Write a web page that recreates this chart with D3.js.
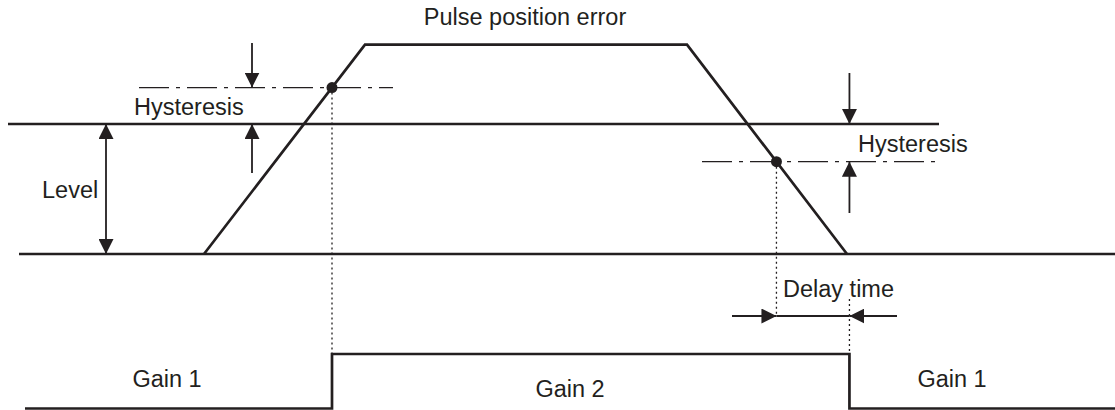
<!DOCTYPE html>
<html>
<head>
<meta charset="utf-8">
<script src="https://cdn.jsdelivr.net/npm/d3@7"></script>
<style>
  body { margin: 0; background: #fff; }
  svg text { font-family: "Liberation Sans", Arial, sans-serif; font-size: 23.5px; fill: #231f20; }
</style>
</head>
<body>
<svg width="1115" height="410"></svg>
<script>
// pulse position error profile (time, level in units of "Level")
const errorTimes = [20.4, 36.5, 68.7, 84.7];
const errorLevels = [0, 1.61, 1.61, 0];
const levelValue = 1;
const hystUpper = 1.28;
const hystLower = 0.71;
const delayTime = 7.3;
const gainValues = [1, 2];
const labels = ["Pulse position error", "Hysteresis", "Level", "Delay time", "Gain 1", "Gain 2"];

const svg = d3.select("svg"),
    width = +svg.attr("width"),
    ink = "#231f20";

const x = d3.scaleLinear().domain([0, 111.5]).range([0, width]);
const y = d3.scaleLinear().domain([0, 1]).range([254, 124]);
const gy = d3.scaleLinear().domain([1, 2]).range([408.5, 354]);

// crossing times from the ramps
const riseT = errorTimes[0] + (errorTimes[1] - errorTimes[0]) * (hystUpper / errorLevels[1]);
const fallT = errorTimes[2] + (errorTimes[3] - errorTimes[2]) * (1 - hystLower / errorLevels[2]);
const switchOff = fallT + delayTime;

// arrowheads
const defs = svg.append("defs");
defs.append("marker")
    .attr("id", "head")
    .attr("viewBox", "0 0 15 15")
    .attr("refX", 15).attr("refY", 7.5)
    .attr("markerWidth", 15).attr("markerHeight", 15)
    .attr("markerUnits", "userSpaceOnUse")
    .attr("orient", "auto-start-reverse")
    .append("path")
    .attr("d", "M0,0 L15,7.5 L0,15 Z")
    .attr("fill", ink);

const line = d3.line().x(d => x(d[0])).y(d => y(d[1]));
const gainLine = d3.line().x(d => x(d[0])).y(d => gy(d[1]));

// level and base lines
svg.append("line").attr("x1", x(0.8)).attr("x2", x(93.9)).attr("y1", y(levelValue)).attr("y2", y(levelValue))
    .attr("stroke", ink).attr("stroke-width", 2.7);
svg.append("line").attr("x1", x(1.9)).attr("x2", x(111.5)).attr("y1", y(0)).attr("y2", y(0))
    .attr("stroke", ink).attr("stroke-width", 2.7);

// hysteresis dash-dot lines
[[13.9, 39.3, hystUpper], [70.2, 93.7, hystLower]].forEach(d => {
    svg.append("line").attr("x1", x(d[0])).attr("x2", x(d[1])).attr("y1", y(d[2])).attr("y2", y(d[2]))
        .attr("stroke", ink).attr("stroke-width", 1.3).attr("stroke-dasharray", "30,7,4,7");
});

// dotted verticals
const dotted = [
    [riseT, y(hystUpper), gy(2)],
    [fallT, y(hystLower), 316],
    [switchOff, 299, gy(2)]
];
dotted.forEach(d => {
    svg.append("line").attr("x1", x(d[0])).attr("x2", x(d[0])).attr("y1", d[1]).attr("y2", d[2])
        .attr("stroke", ink).attr("stroke-width", 1.3).attr("stroke-dasharray", "2,3");
});

// pulse position error trapezoid
svg.append("path")
    .datum(errorTimes.map((t, i) => [t, errorLevels[i]]))
    .attr("d", line)
    .attr("fill", "none").attr("stroke", ink).attr("stroke-width", 2.7).attr("stroke-linejoin", "miter");

// crossing points
[[riseT, hystUpper], [fallT, hystLower]].forEach(d => {
    svg.append("circle").attr("cx", x(d[0])).attr("cy", y(d[1])).attr("r", 5.5).attr("fill", ink);
});

// arrows
function arrow(x1, y1, x2, y2, both) {
    const a = svg.append("line").attr("x1", x1).attr("y1", y1).attr("x2", x2).attr("y2", y2)
        .attr("stroke", ink).attr("stroke-width", 1.8)
        .attr("marker-end", "url(#head)");
    if (both) a.attr("marker-start", "url(#head)");
}
arrow(x(10.6), y(levelValue), x(10.6), y(0), true);
arrow(x(25.2), 43, x(25.2), y(hystUpper));
arrow(x(25.2), 173, x(25.2), y(levelValue));
arrow(x(switchOff), 73, x(switchOff), y(levelValue));
arrow(x(switchOff), 213, x(switchOff), y(hystLower));
svg.append("line").attr("x1", x(fallT)).attr("x2", x(switchOff)).attr("y1", 316).attr("y2", 316)
    .attr("stroke", ink).attr("stroke-width", 1.8);
arrow(x(73.2), 316, x(fallT), 316);
arrow(x(89.7), 316, x(switchOff), 316);

// gain signal
const gainPts = [[2.5, gainValues[0]], [riseT, gainValues[0]], [riseT, gainValues[1]],
    [switchOff, gainValues[1]], [switchOff, gainValues[0]], [111.5, gainValues[0]]];
svg.append("path")
    .datum(gainPts)
    .attr("d", gainLine)
    .attr("fill", "none").attr("stroke", ink).attr("stroke-width", 2.7);

// labels
const text = [
    { t: labels[0], x: 525, y: 25, a: "middle" },
    { t: labels[1], x: 134, y: 115, a: "start" },
    { t: labels[1], x: 858, y: 152, a: "start" },
    { t: labels[2], x: 42, y: 198, a: "start" },
    { t: labels[3], x: 783, y: 297, a: "start" },
    { t: labels[4], x: 167, y: 387, a: "middle" },
    { t: labels[5], x: 570, y: 397, a: "middle" },
    { t: labels[4], x: 952, y: 387, a: "middle" }
];
svg.selectAll("text.lbl").data(text).enter().append("text")
    .attr("class", "lbl")
    .attr("x", d => d.x).attr("y", d => d.y)
    .attr("text-anchor", d => d.a)
    .text(d => d.t);
</script>
</body>
</html>
